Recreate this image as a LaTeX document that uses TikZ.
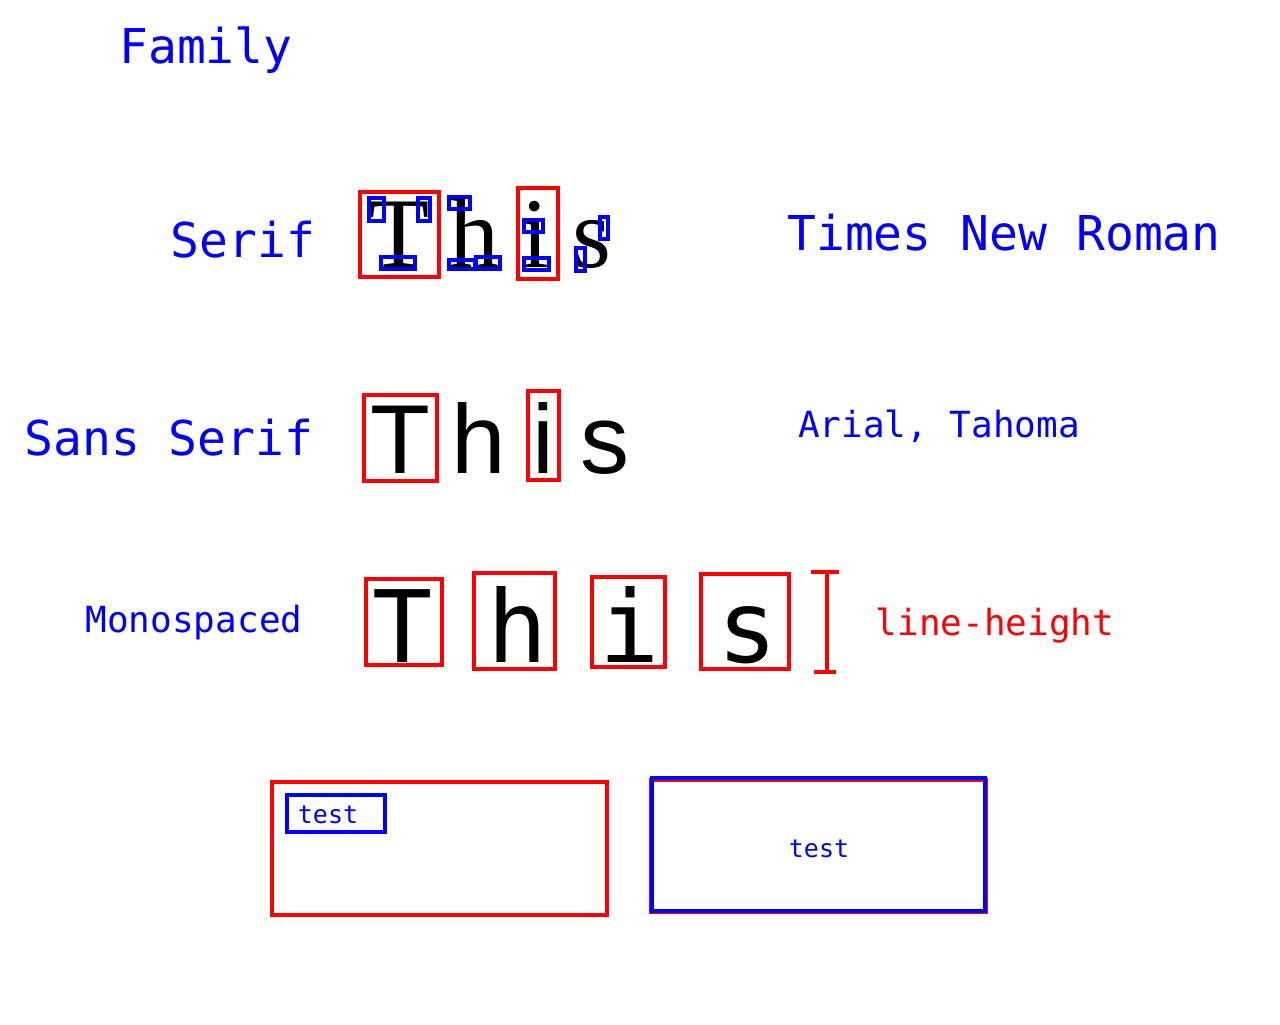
\documentclass[tikz,border=0pt]{standalone}
\usepackage{fontspec}
\setmonofont{DejaVu Sans Mono}
\newfontfamily\fserif{Liberation Serif}
\newfontfamily\fsans{Liberation Sans}
\newfontfamily\fmono{DejaVu Sans Mono}
\definecolor{pblue}{RGB}{0,0,255}
\definecolor{pred}{RGB}{255,0,0}
\begin{document}
\begin{tikzpicture}[x=0.75pt,y=-0.75pt,
 lbl/.style={inner sep=0,anchor=base,text=pblue,font=\fmono\fontsize{36pt}{40pt}\selectfont},
 lblm/.style={lbl,font=\fmono\fontsize{27pt}{30pt}\selectfont},
 lbls/.style={lbl,font=\fmono\fontsize{18.75pt}{22pt}\selectfont},
 gserif/.style={inner sep=0,anchor=base west,text=black,font=\fserif\fontsize{75pt}{80pt}\selectfont},
 gsans/.style={inner sep=0,anchor=base west,text=black,font=\fsans\fontsize{73.5pt}{80pt}\selectfont},
 gmono/.style={inner sep=0,anchor=base,text=black,font=\fmono\fontsize{75pt}{80pt}\selectfont},
 rbox/.style={draw=pred,line width=3pt},
 bbox/.style={draw=pblue,line width=2.6pt},
]
\useasboundingbox (0,0) rectangle (1280,1024);

% labels
\node[lbl] (family) at (206,64) {Family};
\node[lbl] (serif) at (243,257) {Serif};
\node[lbl] (sans) at (169,455) {Sans Serif};
\node[lbl] (times) at (1004,250) {Times New Roman};
\node[lblm] (arial) at (939,437) {Arial, Tahoma};
\node[lblm] (mono) at (194,632) {Monospaced};
\node[lblm,text=pred] (lh) at (995,635) {line-height};

% serif row
\node[gserif] (sT) at (368,267) {T};
\node[gserif] (sh) at (449,267) {h};
\node[gserif] (si) at (521,267) {i};
\node[gserif] (ss) at (572,267) {s};
\draw[rbox] (360,192) rectangle (439,277);
\draw[rbox] (518,188) rectangle (558,279);
\draw[bbox] (369,198) rectangle (384,221);
\draw[bbox] (418,198) rectangle (430,221);
\draw[bbox] (381,257) rectangle (415,269);
\draw[bbox] (449,197) rectangle (470,209);
\draw[bbox] (449,260) rectangle (475,269);
\draw[bbox] (476,257) rectangle (500,269);
\draw[bbox] (524,220) rectangle (543,232);
\draw[bbox] (524,258) rectangle (549,270);
\draw[bbox] (600,217) rectangle (608,239);
\draw[bbox] (576,248) rectangle (585,271);

% sans row
\node[gsans] (aT) at (370,473) {T};
\node[gsans] (ah) at (451,473) {h};
\node[gsans] (ai) at (532,473) {i};
\node[gsans] (as) at (580,473) {s};
\draw[rbox] (364,395) rectangle (437,481);
\draw[rbox] (528,391) rectangle (559,480);

% mono row
\node[gmono] (mT) at (402.5,662) {T};
\node[gmono] (mh) at (518,662) {h};
\node[gmono] (mi) at (630,662) {i};
\node[gmono] (ms) at (747.5,662) {s};
\draw[rbox] (366,579) rectangle (442,665);
\draw[rbox] (474,573) rectangle (555,669);
\draw[rbox] (592,577) rectangle (665,667);
\draw[rbox] (701,574) rectangle (789,669);
\coordinate (bt) at (827,572);
\coordinate (bb) at (827,671.5);
\draw[draw=pred,line width=3pt] (bt) -- (bb);
\draw[draw=pred,line width=3pt] (811,572) -- (839,572);
\draw[draw=pred,line width=3pt] (814,671.5) -- (836,671.5);

% bottom boxes
\draw[rbox] (272,782) rectangle (607,915);
\draw[bbox,line width=3pt] (287,795) rectangle (385,832);
\node[lbls] (t1) at (328,823) {test};
\draw[rbox] (651,780) rectangle (986,912);
\draw[bbox,line width=3pt] (652,778) rectangle (985,911);
\node[lbls] (t2) at (819,857) {test};
\end{tikzpicture}
\end{document}
